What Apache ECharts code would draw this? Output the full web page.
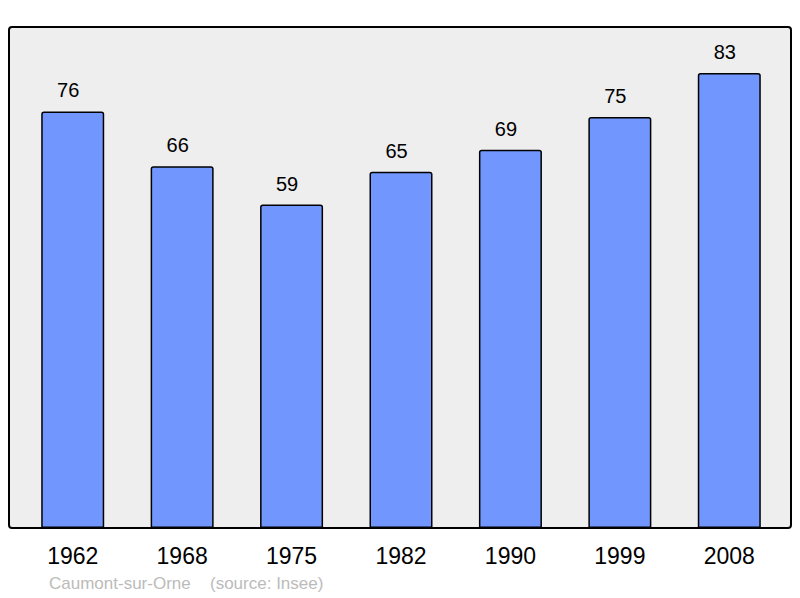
<!DOCTYPE html>
<html><head><meta charset="utf-8">
<script src="https://cdn.jsdelivr.net/npm/echarts@6/dist/echarts.min.js"></script>
<style>html,body{margin:0;padding:0;background:#fff}#c{width:800px;height:598px}</style>
</head><body><div id="c"></div>
<script>
const years = ['1962','1968','1975','1982','1990','1999','2008'];
const population = [76, 66, 59, 65, 69, 75, 83];
const townName = 'Caumont-sur-Orne';
const sourceText = '(source: Insee)';

const chart = echarts.init(document.getElementById('c'), null, {renderer: 'svg'});
chart.setOption({
  animation: false,
  backgroundColor: '#ffffff',
  graphic: [
    {type: 'rect', z: -10, shape: {x: 9, y: 27, width: 782, height: 501, r: 3},
     style: {fill: '#eeeeee', stroke: '#000', lineWidth: 2}},
    {type: 'text', left: 49, top: 575, style: {text: townName, fill: '#bbbbbb', font: '17px "Liberation Sans", Arial, sans-serif'}},
    {type: 'text', left: 210, top: 575, style: {text: sourceText, fill: '#bbbbbb', font: '17px "Liberation Sans", Arial, sans-serif'}}
  ],
  grid: {left: 18, right: 16, top: 27, bottom: 70, containLabel: false},
  xAxis: {
    type: 'category', data: years,
    axisLine: {show: false}, axisTick: {show: false},
    axisLabel: {color: '#000', fontSize: 23, margin: 16, fontFamily: '"Liberation Sans", Arial, sans-serif'}
  },
  yAxis: {
    type: 'value', min: 0, max: 91.4,
    show: false, splitLine: {show: false}
  },
  series: [{
    type: 'bar', data: population, barWidth: 63,
    itemStyle: {color: '#7197ff', borderColor: '#000', borderWidth: 1.5, borderRadius: [2,2,0,0]},
    label: {show: true, position: 'top', distance: 11, offset: [-4.5, 0], color: '#000', fontSize: 20,
      fontFamily: '"Liberation Sans", Arial, sans-serif'}
  }]
});
</script></body></html>
